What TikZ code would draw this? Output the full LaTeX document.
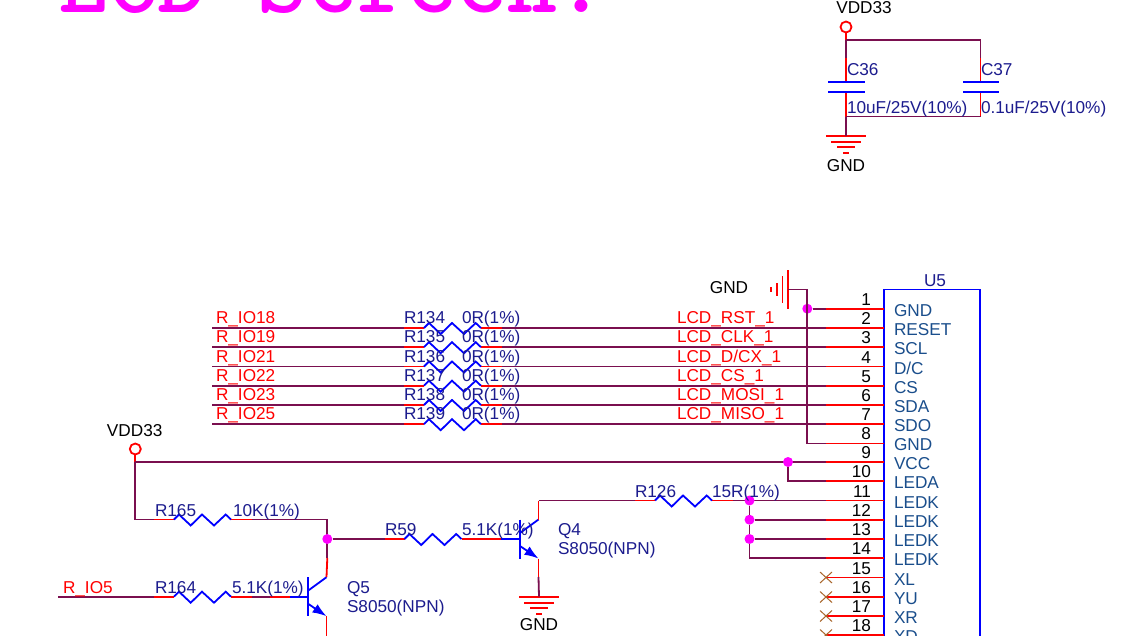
\documentclass[tikz,border=0pt]{standalone}
\usepackage{fontspec}
\setmainfont{Liberation Sans}
\definecolor{wirec}{HTML}{7A0F4F}
\definecolor{navyc}{HTML}{1C1C8E}
\definecolor{pinc}{HTML}{1A4E8C}
\definecolor{xc}{HTML}{A8652A}
\definecolor{magc}{HTML}{FF00FF}
\usetikzlibrary{calc,arrows.meta}
\tikzset{
  wire/.style={draw=wirec,line width=1.8pt},
  stub/.style={draw=red,line width=1.8pt},
  part/.style={draw=blue,line width=1.8pt},
  txt/.style={inner sep=0pt,outer sep=0pt,anchor=base west,font=\fontsize{17.2}{17.2}\selectfont},
  refl/.style={txt,text=navyc},
  netl/.style={txt,text=red},
  pwr/.style={txt,text=black,anchor=base},
  pinl/.style={txt,text=pinc},
  numl/.style={txt,text=black,anchor=base east},
  dot/.style={circle,fill=magc,draw=none,minimum size=10pt,inner sep=0pt},
  term/.style={circle,draw=red,line width=1.8pt,fill=white,minimum size=11pt,inner sep=0pt},
}
% horizontal resistor: name, left x, y
\newcommand{\resH}[3]{%
  \coordinate (#1a) at (#2,#3);
  \coordinate (#1b) at ($(#1a)+(20,0)$);
  \coordinate (#1c) at ($(#1a)+(77,0)$);
  \coordinate (#1d) at ($(#1a)+(98,0)$);
  \draw[stub] (#1a) -- (#1b);
  \draw[stub] (#1c) -- (#1d);
  \draw[part,line join=miter] (#1b) -- ++(5,-5) -- ++(11.7,11) -- ++(11.3,-11) -- ++(12,11) -- ++(11.7,-11) -- (#1c);
}
% ground, downward: name, x, y
\newcommand{\gndD}[3]{%
  \coordinate (#1) at (#2,#3);
  \draw[stub] ($(#1)+(-20,0)$) -- ($(#1)+(20,0)$);
  \draw[stub] ($(#1)+(-15,6)$) -- ($(#1)+(15,6)$);
  \draw[stub] ($(#1)+(-9,11.5)$) -- ($(#1)+(9,11.5)$);
  \draw[stub] ($(#1)+(-3,17)$) -- ($(#1)+(3,17)$);
}
% NPN: name, bar x, base y
\newcommand{\npn}[3]{%
  \coordinate (#1b) at (#2,#3);
  \coordinate (#1c) at ($(#1b)+(18.5,-19.5)$);
  \coordinate (#1e) at ($(#1b)+(18.5,19.5)$);
  \draw[part] ($(#1b)+(0,-19.5)$) -- ($(#1b)+(0,19.5)$);
  \draw[part] ($(#1b)+(0,-6)$) -- (#1c);
  \draw[part,-{Latex[length=14pt,width=10pt]}] ($(#1b)+(0,7)$) -- (#1e);
}
\begin{document}
\begin{tikzpicture}[x=1pt,y=-1pt]
\useasboundingbox (0,0) rectangle (1142,635);
\clip (0,0) rectangle (1142,635);
\fill[white] (0,0) rectangle (1142,635);

% title
\node[inner sep=0pt,anchor=base west,text=magc,font=\fontsize{95}{95}\selectfont\ttfamily\bfseries] (title) at (58,12.5) {LCD Screen:};

% ---------- decoupling caps
\node[term] (vt) at (846,27) {};
\node[pwr] (vtl) at (864,13) {VDD33};
\coordinate (t1) at (846,40);
\coordinate (t2) at (980.5,40);
\coordinate (c36t) at (846,82);
\coordinate (c36b) at (846,92);
\coordinate (c37t) at (980.5,82);
\coordinate (c37b) at (980.5,92);
\coordinate (b1) at (846,116.5);
\coordinate (b2) at (980.5,116.5);
\draw[stub] (vt) -- (t1);
\draw[wire] (t1) -- (t2) -- (980.5,58);
\draw[wire] (t1) -- (846,58);
\draw[stub] (846,58) -- (c36t);
\draw[stub] (980.5,58) -- (c37t);
\draw[stub] (c36b) -- (b1);
\draw[stub] (c37b) -- (b2);
\draw[wire] (b1) -- (b2);
\draw[part] (828,82) -- (865,82);
\draw[part] (828,92) -- (865,92);
\draw[part] (963,82) -- (999,82);
\draw[part] (963,92) -- (999,92);
\gndD{g1}{846}{135.7}
\draw[wire] (b1) -- (g1);
\node[pwr] (g1l) at (846,171) {GND};
\node[refl] (c36l) at (847,75) {C36};
\node[refl] (c37l) at (981,75) {C37};
\node[refl] (c36v) at (847,113) {10uF/25V(10\%)};
\node[refl] (c37v) at (981,113) {0.1uF/25V(10\%)};

% ---------- U5
\draw[part] (884,640) -- (884,289.5) -- (980,289.5) -- (980,640);
\node[refl] (u5) at (924,286) {U5};
\foreach \n/\y/\t in {1/308.7/GND,2/328/RESET,3/347.2/SCL,4/366.5/D\slash C,5/385.7/CS,6/405/SDA,7/424.2/SDO,8/443.4/GND,9/462/VCC,10/481.3/LEDA,11/500.5/LEDK,12/519.7/LEDK,13/539/LEDK,14/558.2/LEDK,15/577.5/XL,16/597/YU,17/616/XR,18/635/XD}{
  \coordinate (p\n) at (826,\y);
  \coordinate (q\n) at (884,\y);
  \draw[stub] (p\n) -- (q\n);
  \node[numl] (num\n) at (871,\y-3.5) {\n};
  \node[pinl] (lab\n) at (894,\y+7.5) {\t};
}
\foreach \n in {15,16,17,18}{
  \draw[draw=xc,line width=1pt] ($(p\n)+(-6,-5.5)$) -- ($(p\n)+(6,5.5)$);
  \draw[draw=xc,line width=1pt] ($(p\n)+(-6,5.5)$) -- ($(p\n)+(6,-5.5)$);
}

% ---------- series resistors
\foreach \r/\y/\pn/\io/\lcd in {134/328/2/R\_IO18/LCD\_RST\_1,135/347.2/3/R\_IO19/LCD\_CLK\_1,136/366.5/4/R\_IO21/LCD\_D\slash CX\_1,137/385.7/5/R\_IO22/LCD\_CS\_1,138/405/6/R\_IO23/LCD\_MOSI\_1,139/424.2/7/R\_IO25/LCD\_MISO\_1}{
  \coordinate (w\r) at (212,\y);
  \draw[wire] (w\r) -- (404,\y);
  \draw[wire] (502,\y) -- (p\pn);
  \resH{r\r}{404}{\y}
  \node[netl] (io\r) at (216,\y-4.5) {\io};
  \node[refl] (rn\r) at (404,\y-4.5) {R\r};
  \node[refl] (rv\r) at (462,\y-4.5) {0R(1\%)};
  \node[netl] (lcd\r) at (677,\y-4.5) {\lcd};
}

% ---------- top GND + pin 1 / 8
\coordinate (g2) at (788,289.5);
\draw[stub] (788,270) -- (788,309);
\draw[stub] (782.5,276) -- (782.5,303);
\draw[stub] (777,283) -- (777,296);
\draw[stub] (771,287) -- (771,292);
\node[dot] (j1) at (807.3,308.7) {};
\draw[wire] (g2) -- (807.3,289.5) -- (807.3,443.4) -- (p8);
\draw[wire] (j1) -- (p1);
\node[pwr] (g2l) at (729,293) {GND};

% ---------- VDD33 rail
\node[term] (vl) at (135.3,449) {};
\node[pwr] (vll) at (134.7,436) {VDD33};
\coordinate (v1) at (135.3,462);
\draw[stub] (vl) -- (v1);
\draw[wire] (v1) -- (p9);
\node[dot] (j2) at (788,462) {};
\draw[wire] (j2) -- (788,481.3) -- (p10);

% ---------- R165 / R164 / Q5
\resH{r165}{154}{519.5}
\draw[wire] (v1) -- (135.3,519.5) -- (r165a);
\draw[wire] (r165d) -- (327.3,519.5) -- (327.3,558);
\node[dot] (j3) at (327.3,539) {};
\node[refl] (n165) at (155,516) {R165};
\node[refl] (v165) at (233,516) {10K(1\%)};

\npn{qf}{308}{596.7}
\resH{r164}{154}{596.7}
\coordinate (io5) at (58,596.7);
\draw[wire] (io5) -- (r164a);
\draw[wire] (r164d) -- (270,596.7);
\draw[stub] (270,596.7) -- (290,596.7);
\draw[part] (290,596.7) -- (qfb);
\draw[stub] (327.3,558) -- (qfc);
\draw[stub] (qfe) -- (326.5,640);
\node[netl] (io5l) at (63,593) {R\_IO5};
\node[refl] (n164) at (155,593) {R164};
\node[refl] (v164) at (232,593) {5.1K(1\%)};
\node[refl] (q5n) at (347,593) {Q5};
\node[refl] (q5v) at (347,612) {S8050(NPN)};

% ---------- R59 / Q4
\resH{r59}{384.5}{539}
\draw[wire] (j3) -- (r59a);
\npn{qg}{520}{539}
\draw[stub] (r59d) -- (501,539);
\draw[part] (501,539) -- (qgb);
\draw[stub] (qgc) -- (538.5,500.5);
\draw[stub] (qge) -- (538.5,577);
\gndD{g3}{539}{596.7}
\draw[wire] (538.5,577) -- (g3);
\node[pwr] (g3l) at (539,630) {GND};
\node[refl] (n59) at (385,535) {R59};
\node[refl] (v59) at (462,535) {5.1K(1\%)};
\node[refl] (q4n) at (558,535) {Q4};
\node[refl] (q4v) at (558,554) {S8050(NPN)};

% ---------- R126 + LEDK
\resH{r126}{635}{500.5}
\draw[wire] (538.5,500.5) -- (r126a);
\draw[wire] (r126d) -- (p11);
\node[dot] (j4) at (749.5,500.5) {};
\node[dot] (j5) at (749.5,519.7) {};
\node[dot] (j6) at (749.5,539) {};
\draw[wire] (j4) -- (j5) -- (j6) -- (749.5,558.2) -- (p14);
\draw[wire] (j5) -- (p12);
\draw[wire] (j6) -- (p13);
\node[refl] (n126) at (635,497) {R126};
\node[refl] (v126) at (712,497) {15R(1\%)};
\end{tikzpicture}
\end{document}
